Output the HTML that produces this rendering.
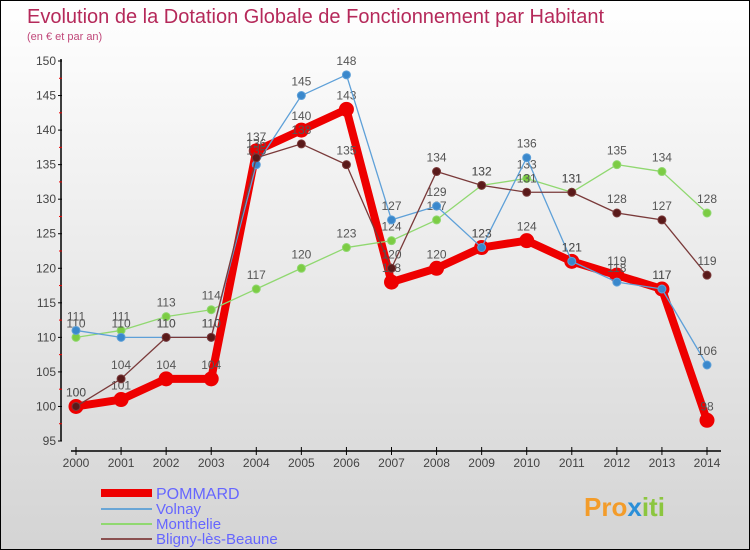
<!DOCTYPE html>
<html><head><meta charset="utf-8"><style>
body{margin:0}
#c{width:750px;height:550px;position:relative;box-sizing:border-box;border:1px solid #000;background:linear-gradient(#fff,#d4d4d4);font-family:"Liberation Sans",sans-serif;overflow:hidden}
</style></head><body>
<div id="c">
<svg id="s" width="750" height="550" style="position:absolute;left:0;top:0">
<text x="26" y="22" font-size="20" fill="#b5295a">Evolution de la Dotation Globale de Fonctionnement par Habitant</text>
<text x="26" y="39" font-size="11" fill="#c0487a">(en € et par an)</text>
<g id="ax"></g><g id="ser"></g>
<g>
<line x1="100" y1="492" x2="151" y2="492" stroke="#e00" stroke-width="8"/>
<text x="155" y="498" font-size="16" fill="#66f">POMMARD</text>
<line x1="100" y1="508" x2="151" y2="508" stroke="#6aa6d6" stroke-width="2"/>
<text x="155" y="513" font-size="15" fill="#66f">Volnay</text>
<line x1="100" y1="523" x2="151" y2="523" stroke="#90d870" stroke-width="2"/>
<text x="155" y="528" font-size="15" fill="#66f">Monthelie</text>
<line x1="100" y1="538" x2="151" y2="538" stroke="#8a5050" stroke-width="2"/>
<text x="155" y="543" font-size="15" fill="#66f">Bligny-lès-Beaune</text>
</g>
<text x="583" y="515" font-size="26" font-weight="bold" fill="#f39c2a">Pro<tspan fill="#2a8fd8">x</tspan><tspan fill="#8cc63f">iti</tspan></text>
</svg>
</div>
<script>
const years=[2000,2001,2002,2003,2004,2005,2006,2007,2008,2009,2010,2011,2012,2013,2014];
const pommard=[100,101,104,104,137,140,143,118,120,123,124,121,119,117,98];
const volnay=[111,110,110,110,135,145,148,127,129,123,136,121,118,117,106];
const monthelie=[110,111,113,114,117,120,123,124,127,132,133,131,135,134,128];
const bligny=[100,104,110,110,136,138,135,120,134,132,131,131,128,127,119];
const yTicks=[95,100,105,110,115,120,125,130,135,140,145,150];
const NS="http://www.w3.org/2000/svg";
const X=i=>75+i*(706-75)/14;
const Y=v=>440-(v-95)*(380/55);
function mk(tag,attrs,parent){const e=document.createElementNS(NS,tag);for(const k in attrs)e.setAttribute(k,attrs[k]);parent.appendChild(e);return e;}
const ax=document.getElementById('ax');
let l=mk('line',{x1:60,y1:58,x2:60,y2:440,stroke:'#000','stroke-width':1.5},ax);


l=mk('line',{x1:70,y1:450,x2:720,y2:450,stroke:'#000','stroke-width':1.5},ax);


yTicks.forEach(v=>{
 mk('line',{x1:57,y1:Y(v),x2:61,y2:Y(v),stroke:'#000'},ax);
 if(v<150) mk('line',{x1:58,y1:Y(v+2.5),x2:61,y2:Y(v+2.5),stroke:'#e00'},ax);
 const t=mk('text',{x:55,y:Y(v)+4,'font-size':12,fill:'#444','text-anchor':'end'},ax);t.textContent=v;
 
 
});
years.forEach((yr,i)=>{
 mk('line',{x1:X(i),y1:446,x2:X(i),y2:454,stroke:'#000'},ax);
 const t=mk('text',{x:X(i),y:466,'font-size':12,fill:'#444','text-anchor':'middle'},ax);t.textContent=yr;
 
 
});
const ser=document.getElementById('ser');
function draw(data,name,color,w,r,dot){
 const g=mk('g',{},ser);
 
 
 const p=mk('polyline',{points:data.map((v,i)=>X(i)+','+Y(v)).join(' '),fill:'none',stroke:color,'stroke-width':w,'stroke-linejoin':'round'},g);
 
 
 data.forEach((v,i)=>{
  const c=mk('circle',{cx:X(i),cy:Y(v),r:r,fill:dot,stroke:color,'stroke-width':1},g);
  
  
  const t=mk('text',{x:X(i),y:Y(v)-10,'font-size':12,fill:'#555','text-anchor':'middle'},g);t.textContent=v;
  
  
 });
}
draw(pommard,'pommard','#e00',8,7,'#e00');
draw(monthelie,'monthelie','#90d870',1.3,4,'#7ccc44');
draw(volnay,'volnay','#5ea0d8',1.3,4,'#3a88cc');
draw(bligny,'bligny','#7a3a3a',1.3,4,'#5a1a1a');
</script>
</body></html>
